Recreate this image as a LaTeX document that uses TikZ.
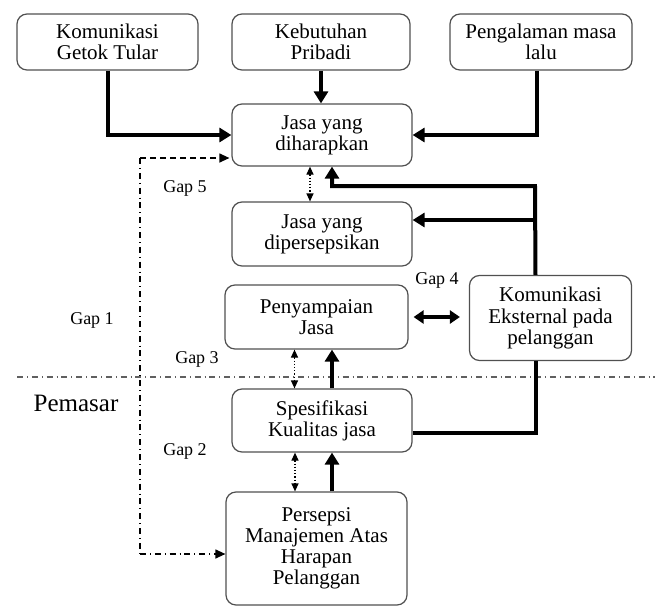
\documentclass[tikz,border=0pt]{standalone}
\usepackage{fontspec}
\setmainfont{Liberation Serif}
\usetikzlibrary{arrows.meta, positioning, calc}
\definecolor{boxline}{HTML}{505050}
\definecolor{rulegray}{HTML}{606060}

\begin{document}
\begin{tikzpicture}[
    x=0.5pt, y=-0.5pt,
    font=\fontsize{10.5}{10.6}\selectfont,
    gapbox/.style={draw=boxline, line width=0.6pt, rounded corners=5pt,
                   align=center, inner sep=2pt},
    gaplabel/.style={font=\fontsize{9}{10}\selectfont},
    thickarr/.style={line width=2pt, -{Triangle[length=6pt,width=7pt]}},
    thickboth/.style={line width=2pt, {Triangle[length=5pt,width=6.5pt]}-{Triangle[length=5pt,width=6.5pt]}},
    thickline/.style={line width=2pt},
    gaparr/.style={densely dotted, line width=0.6pt,
                   {Triangle[length=4pt,width=3.5pt]}-{Triangle[length=4pt,width=3.5pt]}}
]
\useasboundingbox (0,0) rectangle (655,606);

\node[gapbox, minimum width=90.5pt, minimum height=28pt] (getok) at (107.5,42) {Komunikasi\\Getok Tular};
\node[gapbox, minimum width=89pt, minimum height=28pt] (pribadi) at (321,42) {Kebutuhan\\Pribadi};
\node[gapbox, minimum width=91pt, minimum height=28pt] (lalu) at (541,42) {Pengalaman masa\\lalu};

\node[gapbox, minimum width=90pt, minimum height=31pt] (harap) at (322,135) {Jasa yang\\diharapkan};
\node[gapbox, minimum width=90pt, minimum height=32pt] (dipersepsi) at (322,234) {Jasa yang\\dipersepsikan};
\node[gapbox, minimum width=91.5pt, minimum height=32pt] (sampai) at (316.5,317) {Penyampaian\\Jasa};
\node[gapbox, minimum width=81pt, minimum height=42.5pt] (eksternal) at (550.5,318) {Komunikasi\\Eksternal pada\\pelanggan};
\node[gapbox, minimum width=90pt, minimum height=31.5pt] (spesifikasi) at (322,420.5) {Spesifikasi\\Kualitas jasa};
\node[gapbox, minimum width=90.5pt, minimum height=56.5pt] (manajemen) at (316.5,548.5) {Persepsi\\Manajemen Atas\\Harapan\\Pelanggan};

\node[gaplabel] (gap5) at (185,188) {Gap 5};
\node[gaplabel] (gap4) at (437,280) {Gap 4};
\node[gaplabel] (gap1) at (92,320) {Gap 1};
\node[gaplabel] (gap3) at (197,359) {Gap 3};
\node[gaplabel] (gap2) at (185,451) {Gap 2};
\node[font=\fontsize{12.5}{14}\selectfont] (pemasar) at (76,403) {Pemasar};

\draw[dash dot, color=rulegray, line width=0.6pt] (17,377) -- (655,377);

\draw[thickarr] (getok.south) |- (harap.west);
\draw[thickarr] (pribadi.south) -- (pribadi.south |- harap.north);
\draw[thickarr] ([xshift=-2pt]lalu.south) |- (harap.east);

\coordinate (railtop) at (535,186);
\coordinate (railmid) at (535,220);
\draw[thickarr] ([xshift=-7.5pt]eksternal.north) -- (railtop) -| ([xshift=5pt]harap.south);
\draw[thickarr] (railmid) -- (railmid -| dipersepsi.east);
\draw[thickline] ([yshift=-6pt]spesifikasi.east) -| ([xshift=-7.5pt]eksternal.south);

\draw[gaparr] ([xshift=-6pt]harap.south) -- ([xshift=-6pt]harap.south |- dipersepsi.north);
\draw[thickboth] ([xshift=2.5pt]sampai.east) -- ([xshift=-4.5pt]eksternal.west |- sampai.east);
\draw[gaparr] ([xshift=-11pt]sampai.south) -- ([xshift=-11pt]sampai.south |- spesifikasi.north);
\draw[thickarr] ([xshift=5pt]spesifikasi.north) -- ([xshift=5pt]spesifikasi.north |- sampai.south);
\draw[gaparr] ([xshift=-13.5pt]spesifikasi.south) -- ([xshift=-13.5pt]spesifikasi.south |- manajemen.north);
\draw[thickarr] ([xshift=5pt]spesifikasi.south |- manajemen.north) -- ([xshift=5pt]spesifikasi.south);

\coordinate (looptop) at (140,158);
\coordinate (loopbot) at (140,554);
\draw[densely dashed, line width=0.6pt, -{Triangle[length=5pt,width=4.5pt]}] (looptop) -- ([xshift=-1pt]looptop -| harap.west);
\draw[dash dot, line width=0.6pt] (looptop) -- (loopbot);
\draw[dash dot, line width=0.6pt, -{Triangle[length=5pt,width=4.5pt]}] (loopbot) -- (loopbot -| manajemen.west);

\end{tikzpicture}
\end{document}
